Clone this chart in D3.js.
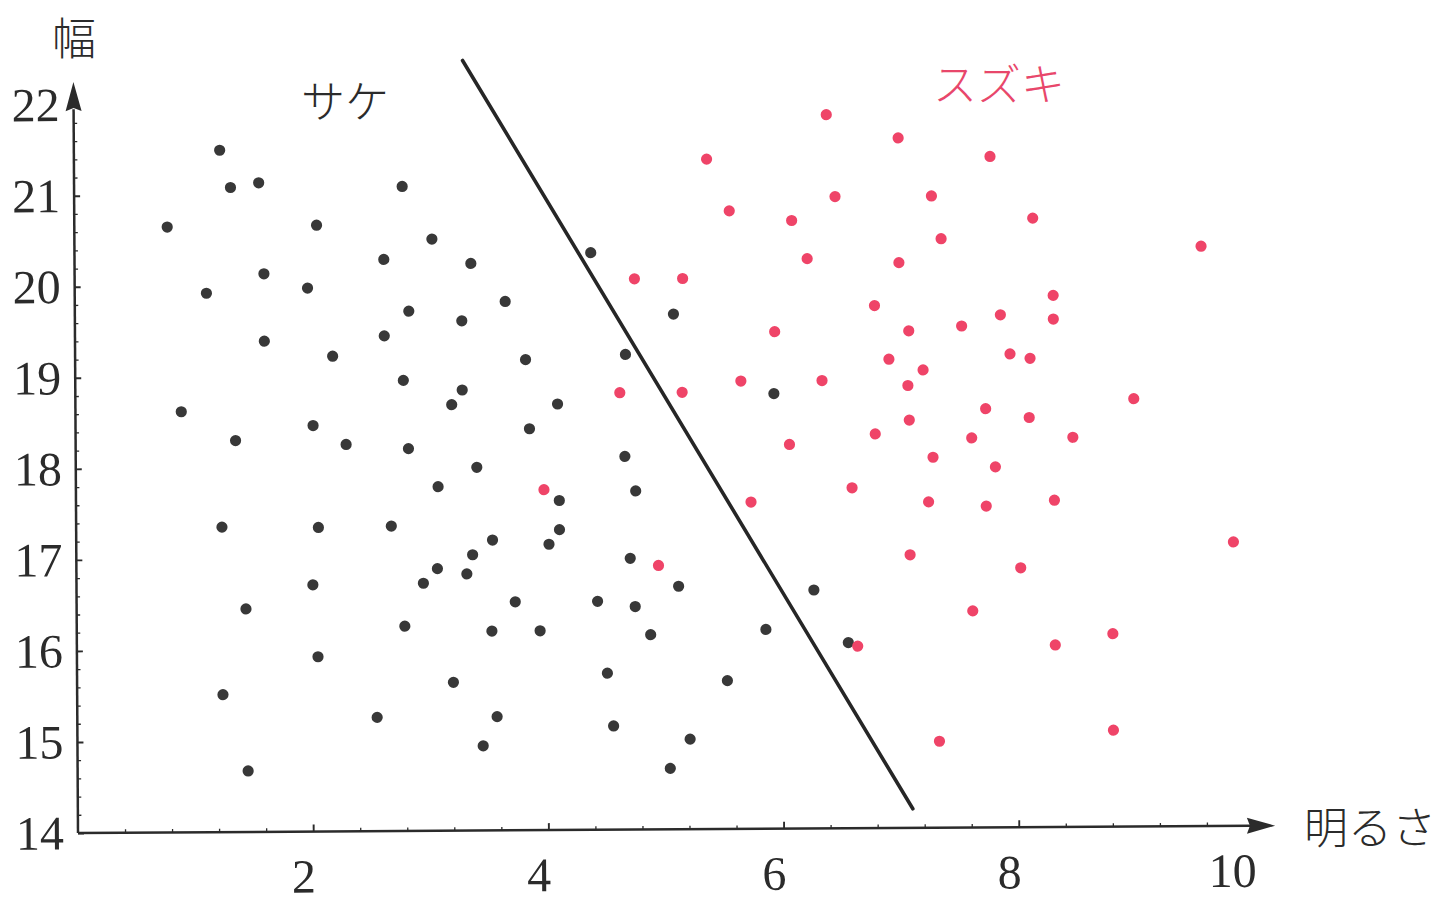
<!DOCTYPE html>
<html lang="ja">
<head>
<meta charset="utf-8">
<title>サケとスズキ</title>
<script src="https://cdn.jsdelivr.net/npm/d3@7"></script>
<style>
  html, body { margin: 0; padding: 0; background: #ffffff; }
  svg { display: block; }
  .num { font-family: "Liberation Serif", "DejaVu Serif", serif; font-size: 48px; fill: #2b2b2b; }
  .jp { font-family: "Noto Sans CJK JP", "Noto Sans CJK SC", sans-serif; font-size: 44px; font-weight: 300; }
</style>
</head>
<body>
<svg id="chart" width="1439" height="905"></svg>
<script>
// サケ (salmon): [明るさ, 幅]
const salmon = [
  [1.24,21.49],[1.33,21.08],[1.57,21.13],[0.79,20.65],[2.06,20.66],[2.79,21.08],
  [3.04,20.50],[3.37,20.23],[2.63,20.28],[1.12,19.92],[1.61,20.13],[1.98,19.97],
  [2.84,19.71],[3.66,19.81],[3.29,19.60],[2.63,19.44],[1.61,19.39],[2.19,19.22],
  [4.39,20.34],[5.09,19.66],[3.83,19.17],[4.68,19.22],[2.79,18.95],[3.29,18.84],
  [3.20,18.68],[0.90,18.62],[4.10,18.68],[1.36,18.30],[2.02,18.46],[2.30,18.25],
  [2.83,18.20],[3.86,18.41],[4.67,18.10],[3.41,17.99],[3.08,17.78],[5.94,18.78],
  [4.11,17.62],[4.76,17.72],[1.24,17.35],[2.06,17.34],[2.68,17.35],[4.11,17.30],
  [4.02,17.14],[3.54,17.19],[3.37,17.03],[3.07,16.88],[2.95,16.72],[3.32,16.82],
  [4.71,16.98],[5.12,16.67],[1.44,16.45],[2.01,16.71],[3.73,16.51],[4.43,16.51],
  [4.75,16.45],[6.27,16.62],[2.79,16.25],[3.53,16.19],[3.94,16.19],[4.88,16.14],
  [5.86,16.19],[2.05,15.92],[6.56,16.04],[4.51,15.72],[3.20,15.63],[5.53,15.63],
  [1.24,15.51],[2.55,15.25],[3.57,15.25],[4.56,15.14],[5.21,14.99],[3.45,14.93],
  [5.04,14.67],[1.45,14.67]
];

// スズキ (sea bass): [明るさ, 幅]
const seabass = [
  [6.40,21.84],[7.01,21.58],[5.38,21.36],[7.79,21.37],[5.57,20.79],[6.10,20.68],
  [6.47,20.94],[7.29,20.94],[8.15,20.69],[7.37,20.47],[6.23,20.26],[7.01,20.21],
  [9.58,20.37],[4.76,20.05],[5.17,20.05],[6.80,19.74],[8.32,19.84],[7.87,19.63],
  [8.32,19.58],[7.54,19.51],[7.09,19.46],[5.95,19.46],[6.92,19.15],[7.95,19.20],
  [8.12,19.15],[7.21,19.03],[5.66,18.92],[6.35,18.92],[7.08,18.86],[4.63,18.80],
  [5.16,18.80],[9.00,18.70],[7.74,18.60],[7.09,18.48],[8.11,18.50],[6.07,18.22],
  [6.80,18.33],[7.62,18.28],[8.48,18.28],[7.29,18.07],[7.82,17.96],[3.98,17.74],
  [6.60,17.74],[5.74,17.59],[7.25,17.58],[7.74,17.53],[8.32,17.59],[9.84,17.12],
  [7.09,17.00],[4.95,16.90],[8.03,16.85],[7.62,16.38],[6.64,16.00],[8.32,16.00],
  [8.81,16.12],[7.33,14.95],[8.81,15.06]
];

// separating line between the two species
const boundary = [[3.31,22.46],[7.10,14.21]];

const xTickLabels = [2, 4, 6, 8, 10];
const yTickLabels = [14, 15, 16, 17, 18, 19, 20, 21, 22];
const xMinorTicks = d3.range(1, 25).map(i => +(i * 0.4).toFixed(1)).filter(v => v % 2 !== 0);
const yMinorTicks = d3.range(1, 40).map(i => +(14 + i * 0.2).toFixed(1)).filter(v => !Number.isInteger(v));

const svg = d3.select("#chart");
svg.append("rect").attr("width", 1439).attr("height", 905).attr("fill", "#ffffff");

const ox = 78, oy = 833;
const x = d3.scaleLinear().domain([0, 10]).range([ox, ox + 1176]);
const y = d3.scaleLinear().domain([14, 22]).range([oy, oy - 728.3]);

// the whole plot sits slightly tilted on the page
const g = svg.append("g").attr("transform", `rotate(-0.35, ${ox}, ${oy})`);

const ink = "#2b2b2b";

// axis lines
g.append("line").attr("x1", x(0)).attr("y1", y(14)).attr("x2", x(9.97)).attr("y2", y(14))
  .attr("stroke", ink).attr("stroke-width", 2.5);
g.append("line").attr("x1", x(0)).attr("y1", y(14)).attr("x2", x(0)).attr("y2", y(21.95))
  .attr("stroke", ink).attr("stroke-width", 2.5);

// arrowheads
const xTip = x(10.18), xBase = x(9.94);
g.append("path")
  .attr("d", `M${xTip},${y(14)} L${xBase},${y(14) - 8} L${xBase + 3},${y(14)} L${xBase},${y(14) + 8} Z`)
  .attr("fill", ink);
const yTip = y(22.25), yBase = y(21.93);
g.append("path")
  .attr("d", `M${x(0)},${yTip} L${x(0) - 8},${yBase} L${x(0)},${yBase - 3} L${x(0) + 8},${yBase} Z`)
  .attr("fill", ink);

// x ticks (pointing up into the plot)
function styleTicks(sel, w) {
  sel.select(".domain").remove();
  sel.selectAll(".tick line").attr("stroke", ink).attr("stroke-width", w);
  sel.selectAll(".tick text").remove();
}
g.append("g").attr("transform", `translate(0,${y(14)})`)
  .call(d3.axisTop(x).tickValues([2, 4, 6, 8]).tickSize(7).tickFormat(""))
  .call(s => styleTicks(s, 1.9));
g.append("g").attr("transform", `translate(0,${y(14)})`)
  .call(d3.axisTop(x).tickValues(xMinorTicks).tickSize(3.5).tickFormat(""))
  .call(s => styleTicks(s, 1.3));

// y ticks (pointing right into the plot)
g.append("g").attr("transform", `translate(${x(0)},0)`)
  .call(d3.axisRight(y).tickValues(yTickLabels.slice(0, -1)).tickSize(6).tickFormat(""))
  .call(s => styleTicks(s, 1.9));
g.append("g").attr("transform", `translate(${x(0)},0)`)
  .call(d3.axisRight(y).tickValues(yMinorTicks.filter(v => v < 21.9)).tickSize(3.5).tickFormat(""))
  .call(s => styleTicks(s, 1.3));

// tick labels
const xLab = g.append("g").attr("transform", `translate(0,${y(14)})`)
  .call(d3.axisBottom(x).tickValues(xTickLabels).tickSize(0).tickFormat(d3.format("d")));
xLab.select(".domain").remove();
xLab.selectAll(".tick text")
  .attr("class", "num").attr("y", 61).attr("dy", 0).attr("dx", 2)
  .attr("text-anchor", "end").attr("font-family", null).attr("font-size", null).attr("fill", null);

const yLab = g.append("g").attr("transform", `translate(${x(0)},0)`)
  .call(d3.axisLeft(y).tickValues(yTickLabels).tickSize(0).tickPadding(14).tickFormat(d3.format("d")));
yLab.select(".domain").remove();
yLab.selectAll(".tick text")
  .attr("class", "num").attr("dy", "0.33em")
  .attr("font-family", null).attr("font-size", null).attr("fill", null);

// separating line
g.append("line")
  .attr("x1", x(boundary[0][0])).attr("y1", y(boundary[0][1]))
  .attr("x2", x(boundary[1][0])).attr("y2", y(boundary[1][1]))
  .attr("stroke", "#262626").attr("stroke-width", 3.6).attr("stroke-linecap", "round");

// points
g.append("g").selectAll("circle").data(salmon).join("circle")
  .attr("cx", d => x(d[0])).attr("cy", d => y(d[1])).attr("r", 5.6)
  .attr("fill", "#383838");
g.append("g").selectAll("circle").data(seabass).join("circle")
  .attr("cx", d => x(d[0])).attr("cy", d => y(d[1])).attr("r", 5.6)
  .attr("fill", "#ef4468");

// labels
svg.append("text").attr("class", "jp").attr("x", 74).attr("y", 36)
  .attr("text-anchor", "middle").attr("dominant-baseline", "central").attr("fill", "#2b2b2b").text("幅");
svg.append("text").attr("class", "jp").attr("x", 1370).attr("y", 825)
  .attr("text-anchor", "middle").attr("dominant-baseline", "central").attr("fill", "#2b2b2b").text("明るさ");
svg.append("text").attr("class", "jp").attr("x", 345).attr("y", 99)
  .attr("text-anchor", "middle").attr("dominant-baseline", "central").attr("fill", "#2b2b2b").text("サケ");
svg.append("text").attr("class", "jp").attr("x", 999).attr("y", 82)
  .attr("text-anchor", "middle").attr("dominant-baseline", "central").attr("fill", "#e8476b").text("スズキ");
</script>
</body>
</html>
